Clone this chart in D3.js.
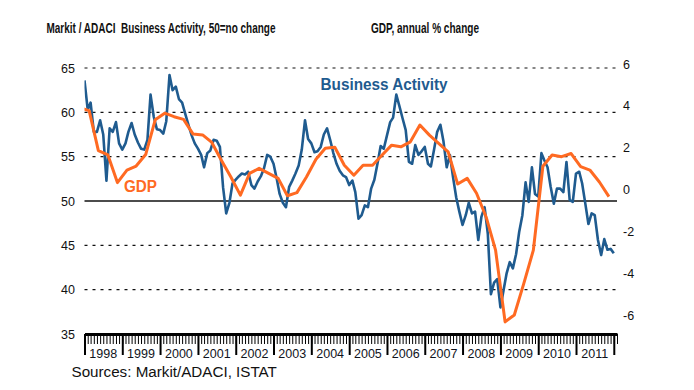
<!DOCTYPE html>
<html><head><meta charset="utf-8">
<script src="https://cdn.jsdelivr.net/npm/d3@7/dist/d3.min.js"></script>
<style>body{margin:0;background:#fff}svg{display:block}</style>
</head><body><svg id="c" width="694" height="390"></svg>
<script>
// ---- data ----
const activityStart = [1998, 0]; // Jan 1998, monthly
const activity = [
  63.6, 60.3, 61.1, 57.8, 57.8, 59.1, 57.5, 52.3, 58.2, 57.8, 58.9, 56.5,
  55.8, 56.5, 57.8, 58.8, 57.5, 56.6, 55.9, 55.8, 56.9, 62.0, 59.5, 58.1,
  58.0, 57.6, 59.0, 64.2, 62.5, 62.9, 61.5, 61.1, 59.8, 58.6, 57.4, 56.5,
  55.9, 55.2, 53.8, 55.4, 55.7, 56.9, 56.8, 56.1, 51.5, 48.6, 49.8, 52.0,
  52.4, 52.8, 53.1, 53.0, 53.3, 51.8, 51.4, 52.2, 52.8, 53.7, 55.2, 55.0,
  54.2, 52.5, 50.8, 49.8, 49.3, 51.6, 52.3, 53.1, 54.0, 55.8, 59.1, 57.0,
  56.5, 55.5, 55.6, 56.1, 57.5, 58.2, 56.9, 55.4, 54.2, 53.4, 52.9, 52.7,
  51.8, 52.3, 51.0, 48.0, 48.4, 49.5, 49.3, 51.4, 52.4, 54.2, 56.2, 55.9,
  57.4, 58.9, 59.4, 62.0, 60.7, 59.3, 58.0, 54.4, 54.2, 56.3, 55.2, 55.6,
  56.1, 54.2, 53.9, 55.8, 57.8, 58.6, 56.7, 53.8, 55.2, 52.7, 50.4, 48.8,
  47.3, 48.4, 49.8, 48.6, 48.8, 45.6, 48.2, 49.3, 46.3, 39.5, 40.8, 41.2,
  38.0, 40.0, 41.8, 43.1, 42.4, 44.0, 46.5, 48.4, 52.1, 49.9, 53.8, 50.8,
  50.5, 55.4, 54.6, 53.8, 51.6, 49.7, 51.4, 51.4, 51.0, 54.4, 50.1, 49.9,
  53.1, 53.3, 52.0, 49.7, 47.4, 48.6, 48.4, 45.6, 43.9, 45.7, 44.5, 44.6,
  44.1
];
const gdpStart = [1997, 4]; // Q4 1997, quarterly
const gdp = [
  3.9,
  3.77, 1.86, 1.65, 0.33, 0.93, 1.12, 1.67, 3.33, 3.65, 3.48, 3.35, 2.65,
  2.61, 2.25, 1.40, 0.60, -0.27, 0.77, 1.01, 0.77, 0.53, -0.30, -0.15, 0.60,
  1.45, 1.97, 2.02, 1.16, 0.68, 1.16, 1.16, 1.65, 2.12, 2.04, 2.28, 3.08,
  2.60, 2.20, 1.80, 0.26, 0.53, -0.18, -1.30, -2.90, -6.33, -6.00, -4.49, -2.90,
  1.11, 1.65, 1.57, 1.72, 1.09, 0.93, 0.36, -0.34
];
const years = [1998,1999,2000,2001,2002,2003,2004,2005,2006,2007,2008,2009,2010,2011];
const leftTicks = [40, 45, 50, 55, 60, 65];
const leftLabels = [35, 40, 45, 50, 55, 60, 65];
const rightTicks = [-6, -4, -2, 0, 2, 4, 6];

const titleLeft = "Markit / ADACI  Business Activity, 50=no change";
const titleRight = "GDP, annual % change";
const sourceText = "Sources: Markit/ADACI, ISTAT";

// ---- build ----
const BLUE = "#1f5b8f", ORANGE = "#ff6a22";
const actData = activity.map((v, i) => ({date: new Date(activityStart[0], activityStart[1] + i, 1), v}));
const gdpData = gdp.map((v, i) => ({date: new Date(gdpStart[0], (gdpStart[1]-1)*3 + 1 + 3*i, 15), v}));

const svg = d3.select("#c");
const x = d3.scaleTime().domain([new Date(1998,0,1), new Date(2012,1,1)]).range([84.5, 617]);
const yL = d3.scaleLinear().domain([35, 65]).range([334, 68]);
const yR = d3.scaleLinear().domain([-6, 6]).range([315, 64]);
const font = "'Liberation Sans', Arial, sans-serif";

svg.append("defs").append("clipPath").attr("id","clip")
  .append("rect").attr("x", x.range()[0]).attr("y", 0)
  .attr("width", x.range()[1]-x.range()[0]).attr("height", 390);

// gridlines
svg.append("g").selectAll("line").data(leftTicks).join("line")
  .attr("x1", x.range()[0]).attr("x2", x.range()[1])
  .attr("y1", d => yL(d)).attr("y2", d => yL(d))
  .attr("stroke", "#111")
  .attr("stroke-width", d => d === 50 ? 1.3 : 1.2)
  .attr("stroke-dasharray", d => d === 50 ? null : "3,5");

// left labels
const gl = svg.append("g").attr("transform", "translate(77,0)")
  .call(d3.axisLeft(yL).tickValues(leftLabels).tickSize(0).tickPadding(2).tickFormat(d => String(d)));
gl.select(".domain").remove();
gl.selectAll("text").attr("font-family", font).attr("font-size", 12.5).attr("fill", "#111");

// right labels
const gr = svg.append("g").attr("transform", "translate(623,0)")
  .call(d3.axisRight(yR).tickValues(rightTicks).tickSize(0).tickPadding(0).tickFormat(d => String(d)));
gr.select(".domain").remove();
gr.selectAll("text").attr("font-family", font).attr("font-size", 12.5).attr("fill", "#111");

// bottom axis: minor monthly ticks
const gb = svg.append("g").attr("transform", "translate(0,334)")
  .call(d3.axisBottom(x).ticks(d3.timeMonth.every(1)).tickSize(10).tickSizeOuter(0).tickFormat(""));
gb.select(".domain").attr("stroke", "#000").attr("stroke-width", 3.2);
gb.selectAll(".tick line").attr("stroke", "#000").attr("stroke-width", 1);
const gbm = svg.append("g").attr("transform", "translate(0,334)")
  .call(d3.axisBottom(x).ticks(d3.timeYear.every(1)).tickSize(21).tickSizeOuter(0).tickFormat(""));
gbm.select(".domain").remove();
gbm.selectAll(".tick line").attr("stroke", "#000").attr("stroke-width", 2);

// year labels
svg.append("g").selectAll("text").data(years).join("text")
  .attr("x", d => x(new Date(d, 6, 1))).attr("y", 357.5)
  .attr("text-anchor", "middle").attr("font-family", font).attr("font-size", 12.5)
  .attr("fill", "#10131c").text(d => d);

// lines
const lineL = d3.line().x(d => x(d.date)).y(d => yL(d.v));
const lineR = d3.line().x(d => x(d.date)).y(d => yR(d.v));
const lines = svg.append("g").attr("clip-path", "url(#clip)");
lines.append("path").datum(actData).attr("d", lineL)
  .attr("fill", "none").attr("stroke", BLUE).attr("stroke-width", 2.6).attr("stroke-linejoin", "round");
lines.append("path").datum(gdpData).attr("d", lineR)
  .attr("fill", "none").attr("stroke", ORANGE).attr("stroke-width", 3).attr("stroke-linejoin", "round");

// series labels
svg.append("text").attr("x", 320.5).attr("y", 90).attr("font-family", font)
  .attr("font-weight", "bold").attr("font-size", 16).attr("fill", BLUE)
  .attr("textLength", 127).attr("lengthAdjust", "spacingAndGlyphs").text("Business Activity");
svg.append("text").attr("x", 124).attr("y", 191.5).attr("font-family", font)
  .attr("font-weight", "bold").attr("font-size", 16).attr("fill", ORANGE)
  .attr("textLength", 33).attr("lengthAdjust", "spacingAndGlyphs").text("GDP");

// titles
const tfont = "'Liberation Sans Narrow', 'Arial Narrow', 'Liberation Sans', sans-serif";
svg.append("text").attr("x", 46.5).attr("y", 33).attr("font-family", tfont)
  .attr("font-weight", "bold").attr("font-size", 14.5).attr("fill", "#111")
  .style("white-space", "pre")
  .attr("textLength", 229).attr("lengthAdjust", "spacingAndGlyphs").text(titleLeft);
svg.append("text").attr("x", 371).attr("y", 33).attr("font-family", tfont)
  .attr("font-weight", "bold").attr("font-size", 14.5).attr("fill", "#111")
  .attr("textLength", 108).attr("lengthAdjust", "spacingAndGlyphs").text(titleRight);

// source
svg.append("text").attr("x", 71.5).attr("y", 377).attr("font-family", font)
  .attr("font-size", 15.2).attr("fill", "#111").text(sourceText);
</script>
</body></html>
